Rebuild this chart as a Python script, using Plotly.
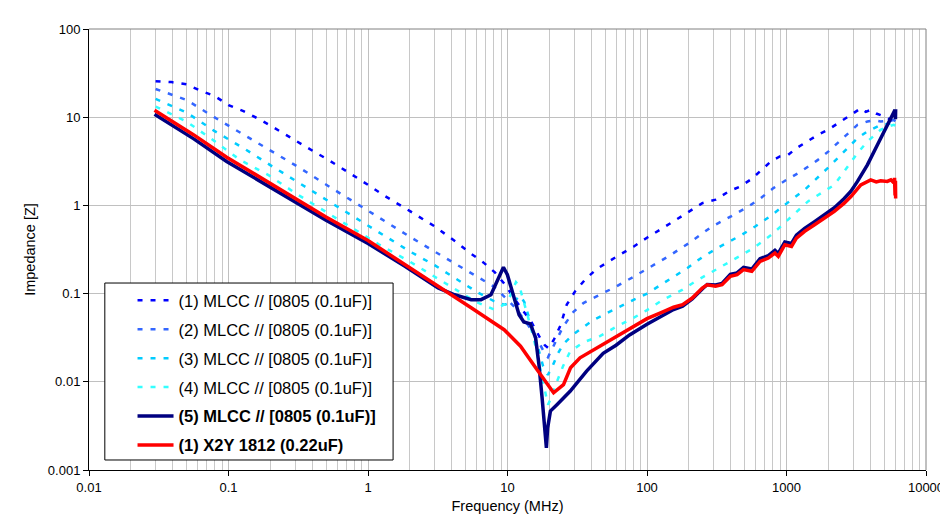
import plotly.graph_objects as go

# ---------------- data (frequency in MHz, impedance in ohm) ----------------
s1_f = [0.03, 0.039, 0.05, 0.062, 0.08, 0.1, 0.128, 0.161, 0.203, 0.259, 0.326, 0.416, 0.523, 0.669, 0.841,
        1.06, 1.33, 2.0, 3.0, 4.29, 5.4, 6.71, 8.12, 9.46, 11.1, 12.8, 14.6, 16.0, 17.2, 18.5, 19.7, 21.5,
        23.9, 26.6, 30.5, 36, 43.5, 60, 80, 100, 130, 160, 200, 249, 310, 385, 466, 564, 664, 782, 896, 1028,
        1178, 1464, 1679, 1977, 2458, 2897, 3410, 3700, 4015, 4400, 4730, 5200, 5570, 6040]
s1_z = [25.6, 25.0, 23.6, 20.2, 17.3, 13.7, 11.7, 9.75, 7.91, 6.25, 5.08, 4.02, 3.26, 2.58, 2.04,
        1.61, 1.27, 0.86, 0.58, 0.384, 0.288, 0.226, 0.174, 0.13, 0.09, 0.065, 0.05, 0.038, 0.031, 0.026, 0.024, 0.03,
        0.043, 0.075, 0.106, 0.144, 0.19, 0.26, 0.34, 0.43, 0.55, 0.68, 0.85, 1.06, 1.16, 1.44, 1.64, 2.0, 2.53, 3.2, 3.59, 3.74,
        4.46, 5.53, 6.3, 7.18, 8.93, 10.6, 12.6, 11.5, 12.1, 11.0, 10.6, 10.0, 9.3, 8.9]

s2_f = [0.03, 0.05, 0.079, 0.128, 0.203, 0.327, 0.525, 0.838, 1.33, 2.0, 3.0, 4.5, 6.0, 8.0, 10.0, 11.5, 13.0,
        15.0, 17.0, 18.5, 19.5, 22, 25, 29.7, 35, 43.5, 60, 80, 100, 140, 200, 293, 400, 535, 650, 805, 1000,
        1211, 1450, 1679, 2000, 2329, 2800, 3228, 3802, 4300, 4730, 5300, 5875, 6040]
s2_z = [20.9, 15.7, 10.0, 6.41, 4.15, 2.64, 1.64, 1.03, 0.648, 0.44, 0.30, 0.205, 0.16, 0.12, 0.085, 0.068, 0.052,
        0.038, 0.027, 0.021, 0.019, 0.028, 0.042, 0.062, 0.078, 0.093, 0.12, 0.155, 0.19, 0.26, 0.374, 0.578, 0.75, 0.975, 1.2, 1.57, 1.95,
        2.32, 2.8, 3.28, 4.1, 5.08, 6.6, 8.19, 8.93, 9.2, 8.93, 9.1, 9.3, 9.0]

s3_f = [0.03, 0.05, 0.079, 0.128, 0.203, 0.327, 0.525, 0.838, 1.057, 1.5, 2.0, 3.0, 4.5, 6.0, 8.0, 9.5, 11.0,
        12.3, 13.2, 14.5, 16.5, 18.0, 19.5, 21, 23, 25.2, 30, 41, 60, 80, 100, 140, 195, 250, 336, 479, 600,
        761, 900, 1086, 1349, 1700, 2000, 2329, 2800, 3228, 3800, 4730, 5300, 5875, 6040]
s3_z = [16.1, 11.3, 7.0, 4.46, 2.81, 1.76, 1.11, 0.70, 0.553, 0.40, 0.30, 0.21, 0.14, 0.105, 0.082, 0.075, 0.08,
        0.095, 0.08, 0.05, 0.025, 0.015, 0.012, 0.015, 0.021, 0.027, 0.035, 0.05, 0.068, 0.085, 0.10, 0.14, 0.195, 0.26, 0.343, 0.465, 0.58,
        0.75, 0.93, 1.16, 1.5, 2.1, 2.7, 3.44, 4.6, 5.78, 6.9, 8.19, 8.4, 8.55, 8.2]

s4_f = [0.03, 0.05, 0.079, 0.121, 0.195, 0.31, 0.493, 0.791, 1.2, 2.0, 3.0, 4.5, 6.0, 8.0, 9.5, 10.5, 11.5,
        12.2, 13.0, 14.0, 15.5, 17.0, 18.5, 19.5, 20.5, 22, 25, 28.1, 35, 46, 60, 80, 100, 130, 180, 223, 327,
        450, 580, 800, 1028, 1200, 1426, 1800, 2203, 2594, 3228, 3802, 4300, 4730, 5300, 5875, 6040]
s4_z = [13.2, 8.93, 5.39, 3.28, 2.19, 1.34, 0.855, 0.543, 0.36, 0.23, 0.157, 0.105, 0.08, 0.066, 0.075, 0.095, 0.135,
        0.12, 0.085, 0.055, 0.03, 0.015, 0.008, 0.0055, 0.0065, 0.009, 0.015, 0.022, 0.028, 0.033, 0.042, 0.053, 0.065, 0.085, 0.111, 0.138, 0.195,
        0.26, 0.328, 0.48, 0.687, 0.85, 1.11, 1.4, 1.71, 2.43, 3.91, 5.31, 6.3, 7.18, 7.8, 8.19, 8.0]

s5_f = [0.0295, 0.0564, 0.097, 0.2, 0.5, 1.0, 1.84, 3.18, 4.18, 5.49, 6.46, 7.61, 8.48, 9.35, 9.98, 11.1, 12.1,
        13.1, 14.6, 15.9, 16.8, 17.7, 18.7, 19.0, 19.4, 20.3, 22.6, 28.1, 36.9, 48.5, 60, 75, 100, 130, 155,
        180, 211, 249, 270, 310, 345, 396, 442, 492, 564, 646, 741, 826, 873, 973, 1086, 1178, 1349, 1589,
        1871, 2203, 2594, 2897, 3228, 3802, 4480, 5275, 5700, 6000, 6040, 6060]
s5_z = [10.8, 5.68, 3.15, 1.6, 0.68, 0.37, 0.204, 0.116, 0.097, 0.0853, 0.0853, 0.097, 0.138, 0.199, 0.164, 0.089, 0.0577,
        0.0476, 0.0453, 0.0314, 0.0157, 0.0066, 0.0023, 0.00178, 0.003, 0.00465, 0.0055, 0.0078, 0.0132, 0.021, 0.026, 0.034, 0.045, 0.057, 0.066,
        0.072, 0.087, 0.113, 0.127, 0.125, 0.13, 0.165, 0.172, 0.198, 0.19, 0.248, 0.27, 0.31, 0.285, 0.385, 0.37, 0.46, 0.55, 0.655,
        0.78, 0.94, 1.2, 1.45, 1.87, 2.88, 4.85, 8.19, 10.0, 12.1, 9.5, 12.3]

x2y_f = [0.0295, 0.0564, 0.097, 0.2, 0.5, 1.0, 1.84, 3.18, 5.49, 9.46, 12.4, 16.3, 21.4, 25.2, 28.3, 33.1, 48.5,
         60, 75, 100, 130, 155, 180, 211, 249, 270, 310, 345, 396, 442, 492, 564, 646, 741, 826, 873, 973, 1086,
         1178, 1349, 1589, 1871, 2203, 2594, 2897, 3410, 4015, 4400, 4730, 5275, 5600, 5875, 5950, 6000, 6040, 6060]
x2y_z = [12.0, 6.3, 3.52, 1.75, 0.74, 0.40, 0.215, 0.12, 0.069, 0.039, 0.0253, 0.0137, 0.0075, 0.0093, 0.0144, 0.0187, 0.0264,
         0.032, 0.040, 0.052, 0.062, 0.07, 0.0748, 0.089, 0.1156, 0.126, 0.121, 0.126, 0.157, 0.164, 0.187, 0.179, 0.232, 0.253, 0.288, 0.264, 0.358, 0.343,
         0.426, 0.508, 0.603, 0.718, 0.855, 1.06, 1.26, 1.71, 1.95, 1.85, 1.9, 1.87, 1.95, 1.8, 2.05, 1.3, 1.9, 1.2]

series_names = ["(1) MLCC // [0805 (0.1uF)]", "(2) MLCC // [0805 (0.1uF)]", "(3) MLCC // [0805 (0.1uF)]",
                "(4) MLCC // [0805 (0.1uF)]", "<b>(5) MLCC // [0805 (0.1uF)]</b>", "<b>(1) X2Y 1812 (0.22uF)</b>"]

x_tick_vals = [0.01, 0.1, 1, 10, 100, 1000, 10000]
x_tick_text = ["0.01", "0.1", "1", "10", "100", "1000", "10000"]
y_tick_vals = [0.001, 0.01, 0.1, 1, 10, 100]
y_tick_text = ["0.001", "0.01", "0.1", "1", "10", "100"]

# ---------------- figure ----------------
FONT = "Liberation Sans, Arial, sans-serif"
styles = [
    dict(color="#0000FF", width=2.5, dash="5px,8px"),
    dict(color="#3366FF", width=2.5, dash="5px,8px"),
    dict(color="#00CCFF", width=2.5, dash="5px,8px"),
    dict(color="#33FFFF", width=2.5, dash="5px,8px"),
    dict(color="#000080", width=3.5),
    dict(color="#FF0000", width=3.5),
]
data = [(s1_f, s1_z), (s2_f, s2_z), (s3_f, s3_z), (s4_f, s4_z), (s5_f, s5_z), (x2y_f, x2y_z)]

fig = go.Figure()
for name, (f, z), st in zip(series_names, data, styles):
    fig.add_trace(go.Scatter(x=f, y=z, mode="lines", name=name, line=st, legendgroup=name))

minor_x = [m * 10.0 ** e for e in range(-2, 4) for m in range(2, 10)]

# plot area in px: x 81..926, y 21..462 -> legend frame in paper coords
fig.update_layout(
    width=948, height=525,
    margin=dict(l=81, r=22, t=21, b=63),
    paper_bgcolor="white", plot_bgcolor="white",
    font=dict(family=FONT, size=13, color="black"),
    showlegend=True,
    legend=dict(x=0.052, y=0.424, xanchor="left", yanchor="top",
                borderwidth=0, bgcolor="rgba(0,0,0,0)",
                font=dict(family=FONT, size=16.5, color="black"),
                tracegroupgap=4.5, itemwidth=36),
    xaxis=dict(type="log", range=[-2, 4], tickmode="array", tickvals=x_tick_vals, ticktext=x_tick_text,
               showgrid=True, gridcolor="#c0c0c0", gridwidth=1,
               minor=dict(tickmode="array", tickvals=minor_x, showgrid=True, gridcolor="#c8c8c8", gridwidth=1, ticks=""),
               showline=True, linecolor="black", linewidth=1, ticks="outside", ticklen=5, tickcolor="black",
               tickfont=dict(size=13), zeroline=False,
               title=dict(text="Frequency (MHz)", font=dict(size=14.5), standoff=7)),
    yaxis=dict(type="log", range=[-3, 2], tickmode="array", tickvals=y_tick_vals, ticktext=y_tick_text,
               showgrid=True, gridcolor="#c0c0c0", gridwidth=1,
               showline=True, linecolor="black", linewidth=1, ticks="outside", ticklen=5, tickcolor="black",
               tickfont=dict(size=13), zeroline=False,
               title=dict(text="Impedance [Z]", font=dict(size=14.5), standoff=8)),
    shapes=[
        dict(type="line", xref="paper", yref="paper", x0=0, x1=1, y0=1, y1=1, line=dict(color="#808080", width=1)),
        dict(type="line", xref="paper", yref="paper", x0=1, x1=1, y0=0, y1=1, line=dict(color="#808080", width=1)),
        dict(type="rect", xref="paper", yref="paper", x0=0.0189, x1=0.3633, y0=0.0227, y1=0.424,
             line=dict(color="black", width=1), fillcolor="white", layer="above"),
    ],
)

fig.write_html("out.html")
